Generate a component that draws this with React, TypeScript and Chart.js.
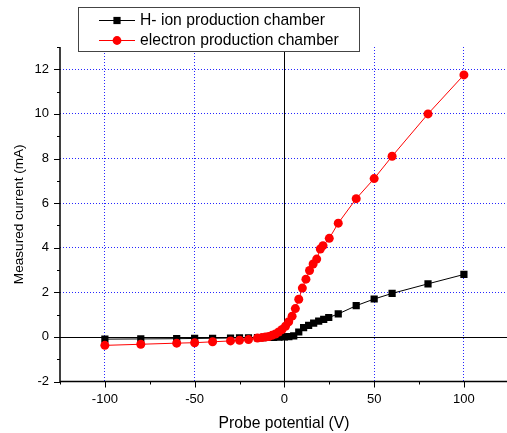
import React, { useEffect, useRef } from 'react';
import { Chart, registerables } from 'chart.js';

Chart.register(...registerables);

const FONT = "'Liberation Sans', Arial, sans-serif";

// H- ion production chamber (black squares)
const ionX = [-100, -80, -60, -50, -40, -30, -25, -20, -15, -12, -9, -6, -3, 0, 2.5, 5.2, 8, 10.7, 13.5, 16.3, 19.1, 21.9, 24.7, 30, 40, 50, 60, 80, 100];
const ionY = [-0.1, -0.09, -0.08, -0.07, -0.06, -0.05, -0.04, -0.04, -0.03, -0.03, -0.02, -0.02, -0.01, 0, 0.01, 0.05, 0.22, 0.42, 0.52, 0.62, 0.71, 0.79, 0.87, 1.03, 1.4, 1.7, 1.95, 2.38, 2.8];

// electron production chamber (red circles)
const elecX = [-100, -80, -60, -50, -40, -30, -25, -20, -15, -12.5, -10.6, -8.7, -6.9, -5, -3.2, -1.3, 0.6, 2.4, 4.3, 6.1, 8, 10, 12, 14, 16, 18, 20, 21.5, 25, 30, 40, 50, 60, 80, 100];
const elecY = [-0.38, -0.33, -0.28, -0.26, -0.22, -0.18, -0.15, -0.12, -0.05, -0.03, -0.01, 0.02, 0.07, 0.13, 0.22, 0.33, 0.48, 0.68, 0.93, 1.27, 1.69, 2.19, 2.59, 2.98, 3.27, 3.49, 3.94, 4.09, 4.42, 5.1, 6.2, 7.1, 8.1, 10.0, 11.75];

const seriesLabels = ['H- ion production chamber', 'electron production chamber'];
const xTitle = 'Probe potential (V)';
const yTitle = 'Measured current (mA)';
const X_MIN = -125;
const X_MAX = 124;
const Y_MIN = -2;
const Y_MAX = 13;
const X_MAJOR = 50;
const X_MINOR = 25;
const Y_MAJOR = 2;
const Y_MINOR = 1;

const GRID_BLUE = 'rgba(0,0,255,0.85)';

const originPlugin = {
  id: 'originStyle',
  beforeDatasetsDraw(chart: any) {
    const { ctx, chartArea: a, scales } = chart;
    const x = scales.x;
    const y = scales.y;
    ctx.save();
    ctx.strokeStyle = '#000';
    ctx.lineWidth = 1;
    const y0 = Math.round(y.getPixelForValue(0)) + 0.5;
    const x0 = Math.round(x.getPixelForValue(0)) + 0.5;
    ctx.beginPath();
    ctx.moveTo(a.left, y0);
    ctx.lineTo(a.right, y0);
    ctx.moveTo(x0, a.top);
    ctx.lineTo(x0, a.bottom);
    ctx.stroke();
    ctx.restore();
  },
  afterDraw(chart: any) {
    const { ctx, chartArea: a, scales } = chart;
    const x = scales.x;
    const y = scales.y;
    ctx.save();
    // axis lines
    ctx.strokeStyle = '#000';
    ctx.lineWidth = 1.5;
    ctx.beginPath();
    ctx.moveTo(a.left, a.top);
    ctx.lineTo(a.left, a.bottom);
    ctx.lineTo(a.right, a.bottom);
    ctx.stroke();
    // ticks
    ctx.lineWidth = 1;
    ctx.beginPath();
    x.ticks.forEach((t: any) => {
      if (Math.abs(t.value % X_MINOR) > 1e-9) return;
      const px = Math.round(x.getPixelForValue(t.value)) + 0.5;
      const len = Math.abs(t.value % X_MAJOR) < 1e-9 ? 6 : 3;
      ctx.moveTo(px, a.bottom);
      ctx.lineTo(px, a.bottom + len);
    });
    y.ticks.forEach((t: any) => {
      if (Math.abs(t.value % Y_MINOR) > 1e-9) return;
      const py = Math.round(y.getPixelForValue(t.value)) + 0.5;
      const len = Math.abs(t.value % Y_MAJOR) < 1e-9 ? 6 : 3;
      ctx.moveTo(a.left, py);
      ctx.lineTo(a.left - len, py);
    });
    ctx.stroke();

    // axis titles
    ctx.fillStyle = '#000';
    ctx.textAlign = 'center';
    ctx.textBaseline = 'middle';
    ctx.font = `15.7px ${FONT}`;
    ctx.fillText(xTitle, 284, 423.5);
    ctx.save();
    ctx.translate(19.5, (a.top + a.bottom) / 2);
    ctx.rotate(-Math.PI / 2);
    ctx.font = `13.6px ${FONT}`;
    ctx.fillText(yTitle, 0, 0);
    ctx.restore();

    // legend box
    ctx.fillStyle = '#fff';
    ctx.fillRect(78.5, 7.5, 281, 44);
    ctx.strokeStyle = '#444';
    ctx.lineWidth = 1;
    ctx.strokeRect(78.5, 7.5, 281, 44);
    const rows = [20, 40];
    chart.data.datasets.forEach((ds: any, i: number) => {
      const ry = rows[i];
      ctx.strokeStyle = ds.borderColor;
      ctx.lineWidth = 1;
      ctx.beginPath();
      ctx.moveTo(99, ry + 0.5);
      ctx.lineTo(135, ry + 0.5);
      ctx.stroke();
      ctx.fillStyle = ds.backgroundColor;
      if (ds.pointStyle === 'rect') {
        ctx.fillRect(117 - 3.6, ry + 0.5 - 3.6, 7.2, 7.2);
      } else {
        ctx.beginPath();
        ctx.arc(117, ry + 0.5, 4.4, 0, Math.PI * 2);
        ctx.fill();
      }
      ctx.fillStyle = '#000';
      ctx.textAlign = 'left';
      ctx.textBaseline = 'middle';
      ctx.font = `15.7px ${FONT}`;
      ctx.fillText(ds.label, 140, ry + 1);
    });
    ctx.restore();
  },
};

export default function App() {
  const canvasRef = useRef<HTMLCanvasElement | null>(null);

  useEffect(() => {
    const canvas = canvasRef.current;
    if (!canvas) return;
    const ionData = ionX.map((v, i) => ({ x: v, y: ionY[i] }));
    const elecData = elecX.map((v, i) => ({ x: v, y: elecY[i] }));

    const chart = new Chart(canvas, {
      type: 'scatter',
      data: {
        datasets: [
          {
            label: seriesLabels[0],
            data: ionData,
            showLine: true,
            borderColor: '#000000',
            backgroundColor: '#000000',
            borderWidth: 1,
            pointStyle: 'rect',
            pointRadius: 5.1,
            pointBorderWidth: 0,
            order: 2,
          },
          {
            label: seriesLabels[1],
            data: elecData,
            showLine: true,
            borderColor: '#ff0000',
            backgroundColor: '#ff0000',
            borderWidth: 1,
            pointStyle: 'circle',
            pointRadius: 4.5,
            pointBorderWidth: 0,
            order: 1,
          },
        ],
      },
      options: {
        animation: false,
        responsive: false,
        devicePixelRatio: 1,
        layout: { autoPadding: false, padding: { top: 47, left: 0, right: 0, bottom: 0 } },
        plugins: {
          legend: { display: false },
          tooltip: { enabled: false },
        },
        scales: {
          x: {
            type: 'linear',
            min: X_MIN,
            max: X_MAX,
            afterFit(s: any) {
              s.height = 51.5;
              s.paddingLeft = 0;
              s.paddingRight = 0;
            },
            ticks: {
              stepSize: X_MINOR,
              autoSkip: false,
              maxRotation: 0,
              padding: 10,
              color: '#000',
              font: { family: FONT, size: 13 },
              callback: (v: any) => (Math.abs(Number(v) % X_MAJOR) < 1e-9 ? String(v) : ''),
            },
            grid: {
              drawTicks: false,
              lineWidth: 1,
              color: (c: any) => {
                const v = c.tick ? c.tick.value : NaN;
                return Math.abs(v % X_MAJOR) < 1e-9 && v !== 0 && v > X_MIN && v < X_MAX ? GRID_BLUE : 'transparent';
              },
            },
            border: { display: false, dash: [1, 2] },
          },
          y: {
            type: 'linear',
            min: Y_MIN,
            max: Y_MAX,
            afterFit(s: any) {
              s.width = 60;
              s.paddingTop = 0;
              s.paddingBottom = 0;
            },
            ticks: {
              stepSize: Y_MINOR,
              autoSkip: false,
              padding: 11,
              color: '#000',
              font: { family: FONT, size: 13 },
              callback: (v: any) => (Math.abs(Number(v) % Y_MAJOR) < 1e-9 ? String(v) : ''),
            },
            grid: {
              drawTicks: false,
              lineWidth: 1,
              color: (c: any) => {
                const v = c.tick ? c.tick.value : NaN;
                return Math.abs(v % Y_MAJOR) < 1e-9 && v > 0 && v < Y_MAX ? GRID_BLUE : 'transparent';
              },
            },
            border: { display: false, dash: [1, 2] },
          },
        },
      },
      plugins: [originPlugin],
    } as any);

    return () => {
      chart.destroy();
    };
  }, []);

  return (
    <div style={{ position: 'fixed', left: 0, top: 0, width: 507, height: 433, background: '#fff' }}>
      <canvas ref={canvasRef} width={507} height={433} style={{ display: 'block', width: 507, height: 433 }} />
    </div>
  );
}
